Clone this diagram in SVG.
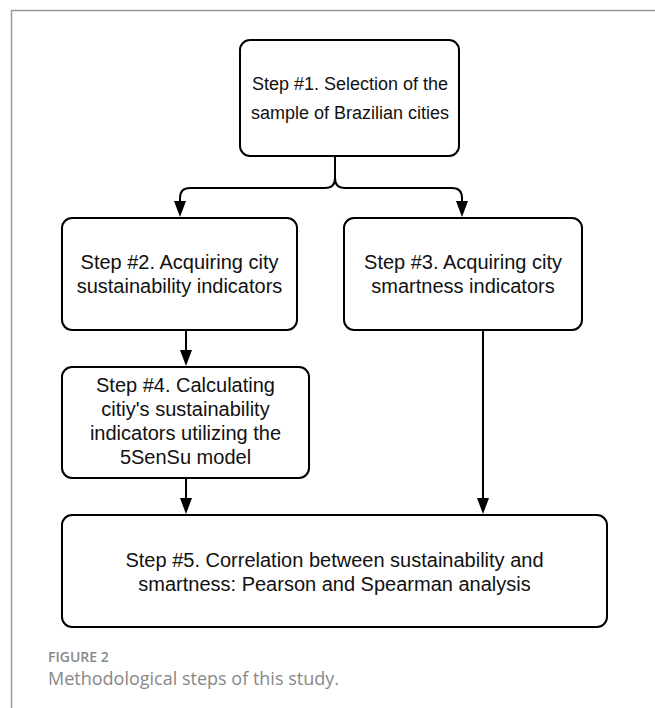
<svg xmlns="http://www.w3.org/2000/svg" width="655" height="708" viewBox="0 0 655 708">
<style>
.box{fill:#fff;stroke:#000;stroke-width:2}
.t{font-family:"Liberation Sans",Arial,sans-serif;font-size:20px;fill:#111;text-anchor:middle}
.t18{font-size:18px}
.c{fill:none;stroke:#000;stroke-width:2}
.ah{fill:#000}
.frame{fill:none;stroke:#999;stroke-width:1.5}
.cap1{font-family:"Open Sans","Liberation Sans",sans-serif;font-size:14px;font-weight:600;fill:#888}
.cap2{font-family:"Open Sans","Liberation Sans",sans-serif;font-size:18px;fill:#888}
</style>
<rect width="655" height="708" fill="#fff"/>
<path class="frame" d="M655,10.5 H11.5 V708"/>
<g id="connectors">
<path class="c" d="M335,156 V178 Q335,188 325,188 H190 Q180,188 180,198 V202"/>
<path class="ah" d="M174,201 L186,201 L180,217 Z"/>
<path class="c" d="M335,178 Q335,188 345,188 H452 Q462,188 462,198 V202"/>
<path class="ah" d="M456,201 L468,201 L462,217 Z"/>
<path class="c" d="M186,330 V351"/>
<path class="ah" d="M180,350 L192,350 L186,366 Z"/>
<path class="c" d="M186,478 V499"/>
<path class="ah" d="M180,498 L192,498 L186,514 Z"/>
<path class="c" d="M483,330 V499"/>
<path class="ah" d="M477,498 L489,498 L483,514 Z"/>
</g>
<g id="step1">
<rect class="box" x="240" y="40" width="219" height="116" rx="10"/>
<text class="t t18" x="350" y="90">Step #1. Selection of the</text>
<text class="t t18" x="350" y="119">sample of Brazilian cities</text>
</g>
<g id="step2">
<rect class="box" x="62" y="218" width="235" height="112" rx="10"/>
<text class="t" x="179.5" y="269">Step #2. Acquiring city</text>
<text class="t" x="179.5" y="293">sustainability indicators</text>
</g>
<g id="step3">
<rect class="box" x="344" y="218" width="238" height="112" rx="10"/>
<text class="t" x="463" y="269">Step #3. Acquiring city</text>
<text class="t" x="463" y="293">smartness indicators</text>
</g>
<g id="step4">
<rect class="box" x="62" y="367" width="247" height="111" rx="10"/>
<text class="t" x="185.5" y="392">Step #4. Calculating</text>
<text class="t" x="185.5" y="416">citiy's sustainability</text>
<text class="t" x="185.5" y="440">indicators utilizing the</text>
<text class="t" x="185.5" y="464">5SenSu model</text>
</g>
<g id="step5">
<rect class="box" x="62" y="515" width="545" height="112" rx="10"/>
<text class="t" x="334.5" y="567">Step #5. Correlation between sustainability and</text>
<text class="t" x="334.5" y="591">smartness: Pearson and Spearman analysis</text>
</g>
<text class="cap1" x="48" y="662">FIGURE 2</text>
<text class="cap2" x="48" y="685">Methodological steps of this study.</text>
</svg>
